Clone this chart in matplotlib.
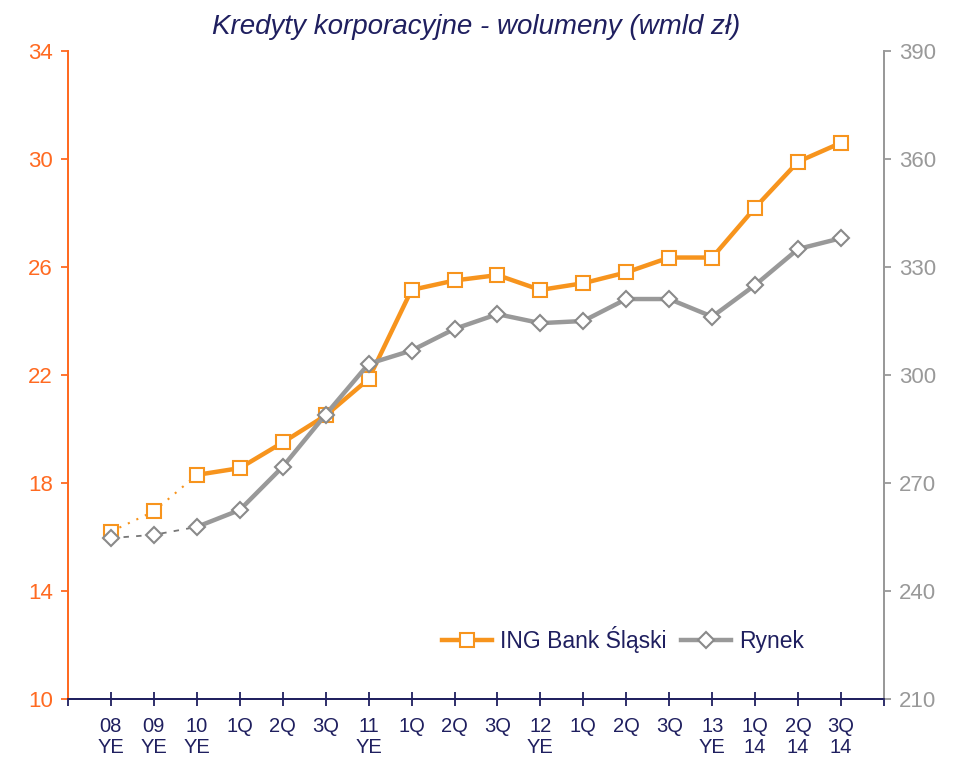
import matplotlib.pyplot as plt
from matplotlib.lines import Line2D

plt.rcParams['font.family'] = ['Liberation Sans', 'DejaVu Sans']

categories = ['08\nYE', '09\nYE', '10\nYE', '1Q', '2Q', '3Q', '11\nYE', '1Q', '2Q', '3Q',
              '12\nYE', '1Q', '2Q', '3Q', '13\nYE', '1Q\n14', '2Q\n14', '3Q\n14']
ing = [16.2, 16.95, 18.3, 18.55, 19.5, 20.5, 21.85, 25.15, 25.5, 25.7,
       25.15, 25.4, 25.8, 26.35, 26.35, 28.2, 29.9, 30.6]
rynek = [254.7, 255.6, 257.8, 262.5, 274.5, 289.0, 303.1, 306.8, 312.8, 316.9,
         314.4, 315.0, 321.1, 321.1, 316.2, 325.0, 335.0, 338.0]

ORANGE = '#F7941D'
ORANGE_AX = '#FF6A21'
GREY = '#999999'
NAVY = '#1F1F5F'

x = list(range(len(categories)))

fig = plt.figure(figsize=(9.56, 7.6), dpi=100)
ax = fig.add_axes([0.0711, 0.0803, 0.8536, 0.8526])
ax2 = ax.twinx()

# ING (left axis)
ax.plot(x[:3], ing[:3], color=ORANGE, lw=1.5, linestyle=(0, (1, 3.5)))
ax.plot(x[2:], ing[2:], color=ORANGE, lw=3.2, solid_joinstyle='round')
ax.plot(x, ing, linestyle='none', marker='s', ms=10, mfc='white', mec=ORANGE, mew=1.5)

# Rynek (right axis)
ax2.plot(x[:3], rynek[:3], color='#777777', lw=1.3, linestyle=(0, (3, 4)))
ax2.plot(x[2:], rynek[2:], color=GREY, lw=3.2, solid_joinstyle='round')
ax2.plot(x, rynek, linestyle='none', marker='D', ms=8.5, mfc='white', mec='#8a8a8a', mew=1.5)

ax.set_xlim(-1, 18)
ax.set_ylim(10, 34)
ax2.set_ylim(210, 390)
ax.set_yticks([10, 14, 18, 22, 26, 30, 34])
ax2.set_yticks([210, 240, 270, 300, 330, 360, 390])

ax.set_xticks(range(-1, 19))
ax.set_xticklabels([''] + categories + [''], linespacing=1.15)

for a in (ax, ax2):
    a.spines['top'].set_visible(False)
    a.spines['bottom'].set_color(NAVY)
    a.spines['bottom'].set_linewidth(1.3)
    a.spines['left'].set_color(ORANGE_AX)
    a.spines['left'].set_linewidth(1.3)
    a.spines['right'].set_color(GREY)
    a.spines['right'].set_linewidth(1.3)

ax.tick_params(axis='x', direction='inout', length=10, width=1.3, color=NAVY,
               labelcolor=NAVY, labelsize=14.5, pad=8)
ax.tick_params(axis='y', direction='out', length=5, width=1.3, color=ORANGE_AX,
               labelcolor=ORANGE_AX, labelsize=16, pad=6)
ax2.tick_params(axis='y', direction='out', length=5, width=1.3, color=GREY,
                labelcolor=GREY, labelsize=16, pad=6)

ax.set_title('Kredyty korporacyjne - wolumeny (wmld zł)', fontsize=20, style='italic',
             color=NAVY, pad=12)

handles = [
    Line2D([], [], color=ORANGE, lw=3.2, marker='s', ms=10, mfc='white', mec=ORANGE, mew=1.5),
    Line2D([], [], color=GREY, lw=3.2, marker='D', ms=8.5, mfc='white', mec='#8a8a8a', mew=1.5),
]
leg = ax2.legend(handles, ['ING Bank Śląski', 'Rynek'], loc='center', bbox_to_anchor=(0.68, 0.092),
                 ncol=2, frameon=False, fontsize=16.5, handlelength=2.2, handletextpad=0.35,
                 columnspacing=0.6, labelcolor=NAVY)

fig.savefig('out.png', dpi=100)
